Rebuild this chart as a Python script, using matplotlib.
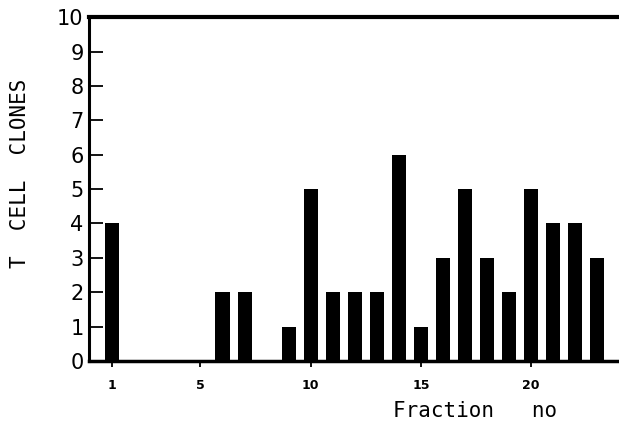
import matplotlib
matplotlib.use("Agg")
import matplotlib.pyplot as plt

fractions = list(range(1, 24))
clones = [4, 0, 0, 0, 0, 2, 2, 0, 1, 5, 2, 2, 2, 6, 1, 3, 5, 3, 2, 5, 4, 4, 3]
xticks = [1, 5, 10, 15, 20]
yticks = list(range(0, 11))

fig = plt.figure(figsize=(6.19, 4.29), dpi=100)
ax = fig.add_axes([0.144, 0.1585, 0.853, 0.8015])

ax.bar(fractions, clones, width=0.64, color="black", align="center")

ax.set_xlim(-0.05, 23.9)
ax.set_ylim(0, 10)

ax.spines["right"].set_visible(False)
ax.spines["top"].set_linewidth(3.0)
ax.spines["bottom"].set_linewidth(2.5)
ax.spines["left"].set_linewidth(2.2)

ax.set_yticks(yticks)
ax.set_yticklabels([str(v) for v in yticks], fontsize=15)
ax.tick_params(axis="y", direction="in", length=10, width=1.3, pad=4)

ax.set_xticks(xticks)
ax.set_xticklabels([str(v) for v in xticks], fontsize=9, fontweight="bold")
ax.tick_params(axis="x", direction="out", length=4, width=1.3, pad=9)

fig.text(0.032, 0.597, "T  CELL  CLONES", rotation=90, fontsize=15,
         family="DejaVu Sans Mono", ha="center", va="center")
fig.text(0.767, 0.043, "Fraction   no", fontsize=15,
         family="DejaVu Sans Mono", ha="center", va="center")

fig.savefig("out.png", dpi=100)
